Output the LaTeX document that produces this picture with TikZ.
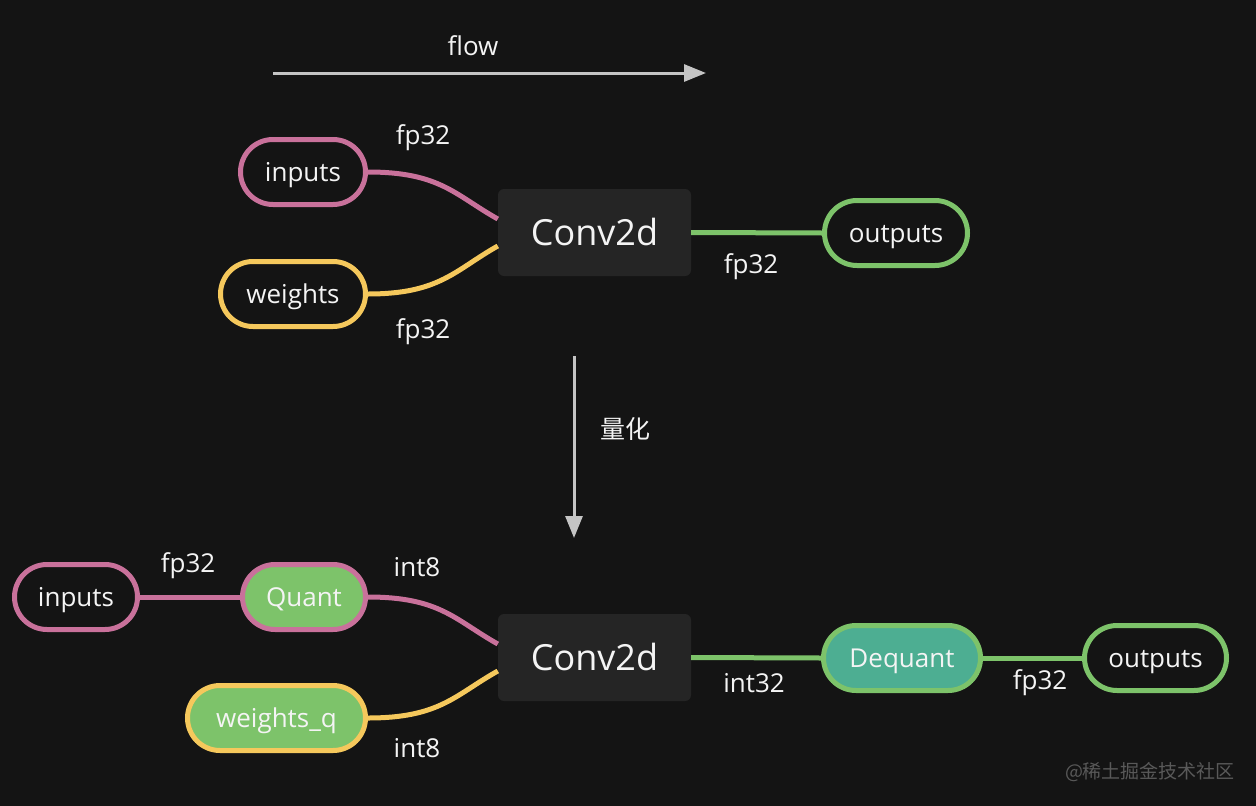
\documentclass[tikz,border=0pt]{standalone}
\usepackage{fontspec}
\setmainfont{Open Sans}
\newfontfamily\cjk{Noto Sans CJK SC}
\usetikzlibrary{arrows.meta}
\definecolor{bg}{HTML}{141414}
\definecolor{pinkc}{HTML}{C9719B}
\definecolor{yellowc}{HTML}{F5C85C}
\definecolor{greenc}{HTML}{7DC36A}
\definecolor{tealc}{HTML}{4DAE92}
\definecolor{boxc}{HTML}{252525}
\definecolor{arrowc}{HTML}{C4C4C4}
\definecolor{txt}{HTML}{F4F4F4}
\tikzset{
  pill/.style={draw, line width=5pt, rounded corners=32.5pt, minimum height=65pt, inner sep=0pt, text=txt, font=\fontsize{26}{30}\selectfont, text height=19pt, text depth=1pt},
  convbox/.style={fill=boxc, rounded corners=6pt, minimum width=193pt, minimum height=87pt, inner sep=0pt, text=txt, font=\fontsize{36}{42}\selectfont, text height=26pt, text depth=1pt},
  lbl/.style={text=txt, font=\fontsize{26}{30}\selectfont, inner sep=0pt},
  link/.style={line width=5pt},
  bigarrow/.style={draw=arrowc, line width=3pt, -{Triangle[length=22pt,width=17pt]}}
}
\begin{document}
\begin{tikzpicture}[x=1pt,y=-1pt]
\fill[bg] (0,0) rectangle (1256,806);
\useasboundingbox (0,0) rectangle (1256,806);
% flow arrow
\coordinate (fa) at (273,73);
\coordinate (fb) at (706,73);
\draw[bigarrow] (fa) -- (fb);
\node[lbl] (flow) at (473,46) {flow};
% top
\node[pill, draw=pinkc, fill=bg, minimum width=125pt] (in1) at (303,172) {inputs};
\node[pill, draw=yellowc, fill=bg, minimum width=145pt] (w1) at (293,294) {weights};
\node[convbox] (c1) at (594.5,232.5) {Conv2d};
\node[pill, draw=greenc, fill=bg, minimum width=143pt] (o1) at (896,233) {outputs};
\draw[link, pinkc] (in1.east) .. controls (440,172) and (455,195) .. (c1.west |- 0,219);
\draw[link, yellowc] (w1.east) .. controls (440,294) and (455,270) .. (c1.west |- 0,246);
\draw[link, greenc] (c1.east) -- (o1.west);
\node[lbl] (l1) at (423,138) {fp32};
\node[lbl] (l2) at (423,332) {fp32};
\node[lbl] (l3) at (751,267) {fp32};
% vertical arrow
\coordinate (va) at (574,356);
\coordinate (vb) at (574,538);
\draw[bigarrow] (va) -- (vb);
\node[lbl, font=\cjk\fontsize{25}{28}\selectfont] (qh) at (625,429) {量化};
% bottom
\node[pill, draw=pinkc, fill=bg, minimum width=123pt] (in2) at (76,597) {inputs};
\node[pill, draw=pinkc, fill=greenc, minimum width=123pt] (q) at (304,597) {Quant};
\node[pill, draw=yellowc, fill=greenc, minimum width=178pt] (w2) at (276.5,718) {weights\_q};
\node[convbox] (c2) at (594.5,657.5) {Conv2d};
\node[pill, draw=greenc, fill=tealc, minimum width=157pt] (dq) at (902,658) {Dequant};
\node[pill, draw=greenc, fill=bg, minimum width=142pt] (o2) at (1155.5,658) {outputs};
\draw[link, pinkc] (in2.east) -- (q.west);
\draw[link, pinkc] (q.east) .. controls (440,597) and (455,620) .. (c2.west |- 0,644);
\draw[link, yellowc] (w2.east) .. controls (440,718) and (455,695) .. (c2.west |- 0,671);
\draw[link, greenc] (c2.east) -- (dq.west);
\draw[link, greenc] (dq.east) -- (o2.west);
\node[lbl] (l4) at (188,566) {fp32};
\node[lbl] (l5) at (417,567) {int8};
\node[lbl] (l6) at (417,748) {int8};
\node[lbl] (l7) at (754,683) {int32};
\node[lbl] (l8) at (1040,683) {fp32};
\node[lbl, text=gray!70!black, font=\cjk\fontsize{19}{22}\selectfont] (wm) at (1150,772) {@稀土掘金技术社区};
\end{tikzpicture}
\end{document}
